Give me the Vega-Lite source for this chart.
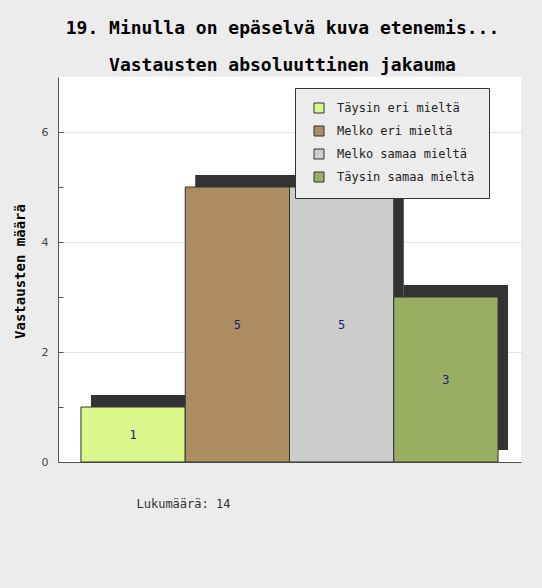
{
  "$schema": "https://vega.github.io/schema/vega-lite/v6.json",
  "autosize": {"type": "none"},
  "width": 463,
  "height": 385,
  "padding": {"left": 58, "top": 77, "right": 21, "bottom": 126},
  "background": "#ececec",
  "title": {
    "text": "19. Minulla on epäselvä kuva etenemis...",
    "subtitle": "Vastausten absoluuttinen jakauma",
    "anchor": "middle",
    "dx": -7,
    "font": "DejaVu Sans Mono",
    "fontSize": 18,
    "fontWeight": "bold",
    "color": "#000000",
    "subtitleFont": "DejaVu Sans Mono",
    "subtitleFontSize": 18,
    "subtitleFontWeight": "bold",
    "subtitleColor": "#000000",
    "subtitlePadding": 19,
    "offset": 2
  },
  "data": {
    "values": [
      {"vastaus": "Täysin eri mieltä", "n": 1},
      {"vastaus": "Melko eri mieltä", "n": 5},
      {"vastaus": "Melko samaa mieltä", "n": 5},
      {"vastaus": "Täysin samaa mieltä", "n": 3}
    ]
  },
  "layer": [
    {
      "layer": [
        {
          "mark": {"type": "bar", "color": "#333333", "xOffset": 10, "yOffset": -12},
          "encoding": {
            "x": {"field": "vastaus", "type": "nominal", "sort": null,
                  "scale": {"paddingInner": 0, "paddingOuter": 0.22},
                  "axis": {
                    "labels": false, "ticks": false, "domain": true,
                    "domainColor": "#555555", "domainWidth": 1,
                    "title": "Lukumäärä: 14",
                    "titleX": 78, "titleY": 41,
                    "titleAlign": "left", "titleBaseline": "middle",
                    "titleFont": "DejaVu Sans Mono", "titleFontSize": 12,
                    "titleFontWeight": "normal", "titleColor": "#333333"
                  }},
            "y": {"field": "n", "type": "quantitative",
                  "scale": {"domain": [0, 7], "nice": false},
                  "axis": {
                    "values": [0, 1, 2, 3, 4, 5, 6],
                    "format": "d",
                    "labelExpr": "datum.value % 2 == 0 ? datum.label : ''",
                    "grid": true,
                    "gridColor": "#e2e2e2",
                    "gridOpacity": {"condition": {"test": "datum.value % 2 == 0 && datum.value > 0", "value": 1}, "value": 0},
                    "tickSize": -5,
                    "tickColor": "#555555",
                    "domainColor": "#555555",
                    "labelPadding": 15,
                    "labelFont": "DejaVu Sans",
                    "labelFontSize": 11,
                    "labelColor": "#444444",
                    "title": "Vastausten määrä",
                    "titleFont": "DejaVu Sans Mono",
                    "titleFontSize": 14,
                    "titleFontWeight": "bold",
                    "titleColor": "#000000",
                    "titleX": -38,
                    "titleY": 194,
                    "titleAlign": "center",
                    "titleBaseline": "middle"
                  }}
          }
        },
        {
          "mark": {"type": "bar", "stroke": "#333333", "strokeWidth": 1},
          "encoding": {
            "x": {"field": "vastaus", "type": "nominal", "sort": null,
                  "scale": {"paddingInner": 0, "paddingOuter": 0.22}},
            "y": {"field": "n", "type": "quantitative"},
            "fill": {"field": "vastaus", "type": "nominal",
                     "scale": {
                       "domain": ["Täysin eri mieltä", "Melko eri mieltä", "Melko samaa mieltä", "Täysin samaa mieltä"],
                       "range": ["#d9f78a", "#ab8d60", "#cccccc", "#99ad63"]
                     },
                     "legend": {
                       "title": null,
                       "orient": "none",
                       "legendX": 237,
                       "legendY": 11,
                       "fillColor": "#ececec",
                       "strokeColor": "#333333",
                       "padding": 14,
                       "symbolOffset": 4,
                       "symbolType": "square",
                       "symbolSize": 100,
                       "symbolStrokeColor": "#333333",
                       "symbolStrokeWidth": 1,
                       "symbolOpacity": 1,
                       "labelFont": "DejaVu Sans Mono",
                       "labelFontSize": 12,
                       "labelColor": "#222222",
                       "labelOffset": 12,
                       "rowPadding": 9,
                       "labelLimit": 300
                     }}
          }
        }
      ]
    },
    {
      "mark": {"type": "text", "font": "DejaVu Sans Mono", "fontSize": 12, "color": "#1c1c78", "baseline": "middle"},
      "encoding": {
        "x": {"field": "vastaus", "type": "nominal", "sort": null,
              "scale": {"paddingInner": 0, "paddingOuter": 0.22}},
        "y": {"field": "n", "type": "quantitative",
              "scale": {"domain": [0, 14], "nice": false},
              "axis": null},
        "text": {"field": "n", "type": "quantitative"}
      }
    }
  ],
  "resolve": {"scale": {"y": "independent"}},
  "config": {
    "view": {"fill": "#ffffff", "stroke": null}
  }
}
